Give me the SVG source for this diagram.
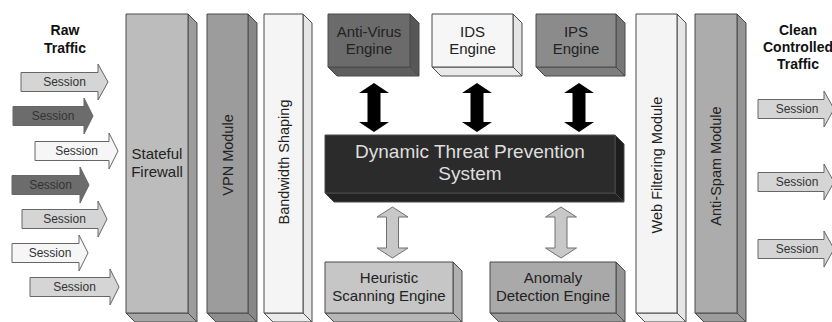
<svg xmlns="http://www.w3.org/2000/svg" width="832" height="322" viewBox="0 0 832 322">
  <style>
    text { font-family: "Liberation Sans", Arial, sans-serif; fill: #222; }
    .title { font-weight: bold; font-size: 14px; text-anchor: middle; fill: #111; }
    .sess { font-size: 12px; text-anchor: middle; fill: #333; }
    .lbl { font-size: 15px; text-anchor: middle; }
    .vlbl { font-size: 14.5px; text-anchor: middle; }
    .edge { stroke: #4a4a4a; stroke-width: 1; stroke-linejoin: round; }
    .arrow { stroke: #666; stroke-width: 1; stroke-linejoin: miter; }
    .light { fill: #d5d5d5; }
    .dark { fill: #6c6c6c; }
    .white { fill: #f6f6f6; }
  </style>

  <rect width="832" height="322" fill="#ffffff"/>

  <!-- column headings -->
  <g id="raw-traffic">
    <text class="title" x="65" y="35">Raw</text>
    <text class="title" x="65" y="53">Traffic</text>
  </g>
  <g id="clean-traffic">
    <text class="title" x="798" y="35">Clean</text>
    <text class="title" x="798" y="52">Controlled</text>
    <text class="title" x="798" y="69">Traffic</text>
  </g>

  <!-- incoming sessions -->
  <g id="sessions-in">
    <path class="arrow light" d="M21,72.5 L98,72.5 L98,64 L108,82 L98,100 L98,91.5 L21,91.5 Z"/>
    <text class="sess" x="64.5" y="86">Session</text>
    <path class="arrow dark" d="M13,106.5 L84,106.5 L84,98 L93,116 L84,134 L84,125.5 L13,125.5 Z"/>
    <text class="sess" x="53" y="120">Session</text>
    <path class="arrow white" d="M35,141.5 L109,141.5 L109,133 L118,151 L109,169 L109,160.5 L35,160.5 Z"/>
    <text class="sess" x="76.5" y="155">Session</text>
    <path class="arrow dark" d="M12,175.5 L80,175.5 L80,167 L89,185 L80,203 L80,194.5 L12,194.5 Z"/>
    <text class="sess" x="50.5" y="189">Session</text>
    <path class="arrow light" d="M22,209.5 L98,209.5 L98,201 L107,219 L98,237 L98,228.5 L22,228.5 Z"/>
    <text class="sess" x="64.5" y="223">Session</text>
    <path class="arrow white" d="M12,243.5 L79,243.5 L79,235 L88,253 L79,271 L79,262.5 L12,262.5 Z"/>
    <text class="sess" x="50" y="257">Session</text>
    <path class="arrow light" d="M30,277.5 L110,277.5 L110,269 L119,287 L110,305 L110,296.5 L30,296.5 Z"/>
    <text class="sess" x="74.5" y="291">Session</text>
  </g>

  <!-- pillars: front face, right side, bottom face -->
  <g id="stateful-firewall">
    <polygon class="edge" fill="#9c9c9c" points="188,14 197,23 197,322 188,313"/>
    <polygon class="edge" fill="#a6a6a6" points="126,313 188,313 197,322 135,322"/>
    <rect class="edge" fill="#bcbcbc" x="126" y="14" width="62" height="299"/>
    <text class="lbl" x="157" y="159">Stateful</text>
    <text class="lbl" x="157" y="177">Firewall</text>
  </g>

  <g id="vpn-module">
    <polygon class="edge" fill="#878787" points="248,14 257,23 257,322 248,313"/>
    <polygon class="edge" fill="#8e8e8e" points="207,313 248,313 257,322 216,322"/>
    <rect class="edge" fill="#9c9c9c" x="207" y="14" width="41" height="299"/>
    <text class="vlbl" transform="translate(233,155) rotate(-90)">VPN Module</text>
  </g>

  <g id="bandwidth-shaping">
    <polygon class="edge" fill="#e6e6e6" points="303,14 312,23 312,322 303,313"/>
    <polygon class="edge" fill="#ebebeb" points="264,313 303,313 312,322 273,322"/>
    <rect class="edge" fill="#f5f5f5" x="264" y="14" width="39" height="299"/>
    <text class="vlbl" transform="translate(289,162) rotate(-90)">Bandwidth Shaping</text>
  </g>

  <g id="web-filtering-module">
    <polygon class="edge" fill="#e6e6e6" points="677,14 686,23 686,322 677,313"/>
    <polygon class="edge" fill="#ebebeb" points="636,313 677,313 686,322 645,322"/>
    <rect class="edge" fill="#f4f4f4" x="636" y="14" width="41" height="299"/>
    <text class="vlbl" transform="translate(662,165) rotate(-90)">Web Filtering Module</text>
  </g>

  <g id="anti-spam-module">
    <polygon class="edge" fill="#959595" points="737,14 746,23 746,322 737,313"/>
    <polygon class="edge" fill="#9c9c9c" points="695,313 737,313 746,322 704,322"/>
    <rect class="edge" fill="#acacac" x="695" y="14" width="42" height="299"/>
    <text class="vlbl" transform="translate(721,166) rotate(-90)">Anti-Spam Module</text>
  </g>

  <!-- engines -->
  <g id="anti-virus-engine">
    <polygon class="edge" fill="#575757" points="410,14 419,23 419,76 410,67"/>
    <polygon class="edge" fill="#5e5e5e" points="328,67 410,67 419,76 337,76"/>
    <rect class="edge" fill="#6b6b6b" x="328" y="14" width="82" height="53"/>
    <text class="lbl" x="369" y="37">Anti-Virus</text>
    <text class="lbl" x="369" y="54">Engine</text>
  </g>

  <g id="ids-engine">
    <polygon class="edge" fill="#e4e4e4" points="513,14 522,23 522,76 513,67"/>
    <polygon class="edge" fill="#eaeaea" points="432,67 513,67 522,76 441,76"/>
    <rect class="edge" fill="#f6f6f6" x="432" y="14" width="81" height="53"/>
    <text class="lbl" x="472.5" y="37">IDS</text>
    <text class="lbl" x="472.5" y="54">Engine</text>
  </g>

  <g id="ips-engine">
    <polygon class="edge" fill="#777777" points="616,14 625,23 625,76 616,67"/>
    <polygon class="edge" fill="#7e7e7e" points="536,67 616,67 625,76 545,76"/>
    <rect class="edge" fill="#8b8b8b" x="536" y="14" width="80" height="53"/>
    <text class="lbl" x="576" y="37">IPS</text>
    <text class="lbl" x="576" y="54">Engine</text>
  </g>

  <g id="dynamic-threat-prevention">
    <polygon class="edge" fill="#1d1d1d" points="615,135 624,144 624,202 615,193"/>
    <polygon class="edge" fill="#232323" points="325,193 615,193 624,202 334,202"/>
    <rect class="edge" fill="#2b2b2b" x="325" y="135" width="290" height="58"/>
    <text class="lbl" style="font-size:19px;fill:#dedede" x="470" y="158">Dynamic Threat Prevention</text>
    <text class="lbl" style="font-size:19px;fill:#dedede" x="470" y="180">System</text>
  </g>

  <g id="heuristic-engine">
    <polygon class="edge" fill="#b0b0b0" points="453,262 462,271 462,322 453,313"/>
    <polygon class="edge" fill="#b6b6b6" points="325,313 453,313 462,322 334,322"/>
    <rect class="edge" fill="#c6c6c6" x="325" y="262" width="128" height="51"/>
    <text class="lbl" x="389" y="283">Heuristic</text>
    <text class="lbl" x="389" y="301">Scanning Engine</text>
  </g>

  <g id="anomaly-engine">
    <polygon class="edge" fill="#939393" points="616,262 625,271 625,322 616,313"/>
    <polygon class="edge" fill="#9a9a9a" points="490,313 616,313 625,322 499,322"/>
    <rect class="edge" fill="#a9a9a9" x="490" y="262" width="126" height="51"/>
    <text class="lbl" x="553" y="283">Anomaly</text>
    <text class="lbl" x="553" y="301">Detection Engine</text>
  </g>

  <!-- connectors -->
  <g id="connectors">
    <path fill="#000" d="M374,83 L389,93 L380.5,93 L380.5,122 L389,122 L374,132 L359,122 L367.5,122 L367.5,93 L359,93 Z"/>
    <path fill="#000" d="M477,83 L492,93 L483.5,93 L483.5,122 L492,122 L477,132 L462,122 L470.5,122 L470.5,93 L462,93 Z"/>
    <path fill="#000" d="M579,83 L594,93 L585.5,93 L585.5,122 L594,122 L579,132 L564,122 L572.5,122 L572.5,93 L564,93 Z"/>
    <path fill="#c8c8c8" stroke="#707070" stroke-width="1" d="M392.5,207 L408,217 L398.5,217 L398.5,248 L408,248 L392.5,258 L377,248 L386.5,248 L386.5,217 L377,217 Z"/>
    <path fill="#c8c8c8" stroke="#707070" stroke-width="1" d="M561,207 L576.5,217 L567,217 L567,248 L576.5,248 L561,258 L545.5,248 L555,248 L555,217 L545.5,217 Z"/>
  </g>

  <!-- outgoing sessions -->
  <g id="sessions-out">
    <path class="arrow light" d="M758,99.5 L824,99.5 L824,91 L834,109 L824,127 L824,118.5 L758,118.5 Z"/>
    <text class="sess" x="797" y="113">Session</text>
    <path class="arrow light" d="M758,172.5 L824,172.5 L824,164 L834,182 L824,200 L824,191.5 L758,191.5 Z"/>
    <text class="sess" x="797" y="186">Session</text>
    <path class="arrow light" d="M758,239.5 L824,239.5 L824,231 L834,249 L824,267 L824,258.5 L758,258.5 Z"/>
    <text class="sess" x="797" y="253">Session</text>
  </g>
</svg>
